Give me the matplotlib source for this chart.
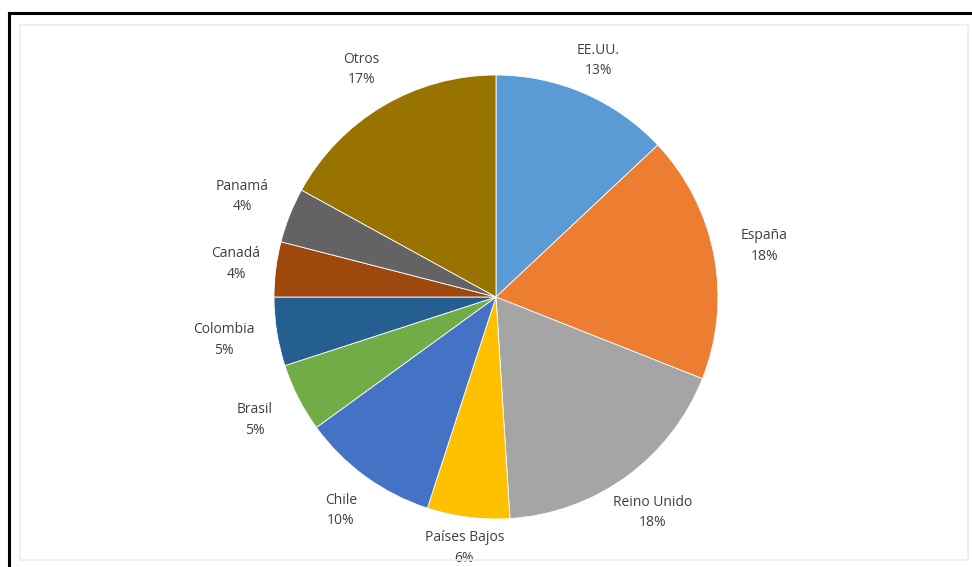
import numpy as np
import matplotlib.pyplot as plt
from matplotlib.lines import Line2D
from matplotlib.patches import Rectangle

plt.rcParams['font.family'] = ['Open Sans', 'DejaVu Sans']

paises = ['EE.UU.', 'España', 'Reino Unido', 'Países Bajos', 'Chile',
          'Brasil', 'Colombia', 'Canadá', 'Panamá', 'Otros']
porcentajes = [13, 18, 18, 6, 10, 5, 5, 4, 4, 17]
colores = ['#5B9BD5', '#ED7D31', '#A5A5A5', '#FFC000', '#4472C4',
           '#70AD47', '#255E91', '#9E480E', '#636363', '#997300']
# radial distance of each label, in pie radii
dist_etiq = [1.16, 1.23, 1.2, 1.14, 1.19, 1.22, 1.24, 1.18, 1.23, 1.19]

W, H = 972, 567
fig = plt.figure(figsize=(W / 100, H / 100), dpi=100)

# pie centred at (496, 297) px with radius 222 px
cx, cy, r = 496, 297, 222
ax = fig.add_axes([(cx - r) / W, (H - cy - r) / H, 2 * r / W, 2 * r / H])

etiquetas = [f'{p}\n{v}%' for p, v in zip(paises, porcentajes)]
wedges, texts = ax.pie(porcentajes, labels=etiquetas, colors=colores,
                       startangle=90, counterclock=False,
                       wedgeprops=dict(edgecolor='white', linewidth=0.6),
                       textprops=dict(fontsize=10, color='#404040',
                                      linespacing=1.5))
for w, t, d in zip(wedges, texts, dist_etiq):
    ang = np.radians((w.theta1 + w.theta2) / 2)
    t.set_position((d * np.cos(ang), d * np.sin(ang)))
    t.set_horizontalalignment('center')
ax.set_xlim(-1, 1)
ax.set_ylim(-1, 1)
ax.set_aspect('equal')

# faint chart-area border and black frame on top/left
fig.patches.append(Rectangle((20 / W, (H - 560) / H), 948 / W, 535 / H,
                             transform=fig.transFigure, fill=False,
                             edgecolor='#ececec', linewidth=1.2))
fig.lines.append(Line2D([8.5 / W, 1], [1 - 12.5 / H] * 2,
                        transform=fig.transFigure, color='black', linewidth=2.2))
fig.lines.append(Line2D([8.5 / W] * 2, [0, 1 - 12.5 / H],
                        transform=fig.transFigure, color='black', linewidth=2.2))

fig.savefig('out.png', dpi=100, facecolor='white')
